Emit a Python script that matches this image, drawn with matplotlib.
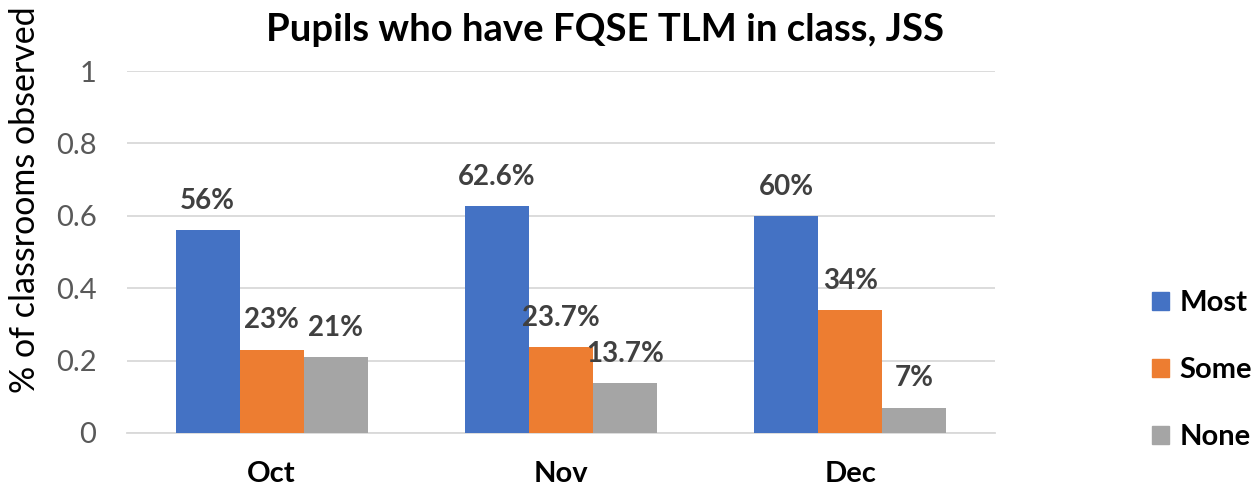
import numpy as np
import matplotlib
matplotlib.use("Agg")
from matplotlib import pyplot as plt
from matplotlib.patches import Patch

plt.rcParams['font.family'] = ['Lato', 'DejaVu Sans']

months = ["Oct", "Nov", "Dec"]
series_names = ["Most", "Some", "None"]
most = [0.56, 0.626, 0.60]
some = [0.23, 0.237, 0.34]
none = [0.21, 0.137, 0.07]
labels_most = ["56%", "62.6%", "60%"]
labels_some = ["23%", "23.7%", "34%"]
labels_none = ["21%", "13.7%", "7%"]
yticks = [0, 0.2, 0.4, 0.6, 0.8, 1]

colors = ["#4472C4", "#ED7D31", "#A5A5A5"]

fig = plt.figure(figsize=(12.56, 4.97), dpi=100)
ax = fig.add_axes([0.1011, 0.1288, 0.6911, 0.7283])

x = np.arange(len(months))
w = 0.221
all_vals = [most, some, none]
all_labels = [labels_most, labels_some, labels_none]
for i, (vals, labs) in enumerate(zip(all_vals, all_labels)):
    pos = x + (i - 1) * w
    ax.bar(pos, vals, width=w, color=colors[i], zorder=3)
    for p, v, l in zip(pos, vals, labs):
        ax.text(p, v + 0.045, l, ha='center', va='bottom', fontsize=20,
                fontweight='bold', color='#404040', zorder=4)

ax.set_xlim(-0.5, 2.5)
ax.set_ylim(0, 1)
ax.set_yticks(yticks)
ax.set_yticklabels(["0", "0.2", "0.4", "0.6", "0.8", "1"])
ax.set_xticks(x)
ax.set_xticklabels(months, fontsize=21, fontweight='bold', color='black')
ax.tick_params(axis='y', labelsize=21, labelcolor='#595959', length=0, pad=22)
ax.tick_params(axis='x', length=0, pad=20)
ax.grid(axis='y', color='#D9D9D9', linewidth=1.3, zorder=0)
for s in ['top', 'right', 'left']:
    ax.spines[s].set_visible(False)
ax.spines['bottom'].set_color('#D9D9D9')
ax.spines['bottom'].set_linewidth(1.3)

fig.text(0.02, 0.598, "% of classrooms observed", rotation=90, ha='center', va='center',
         fontsize=24.5, color='black')
fig.text(0.482, 0.94, "Pupils who have FQSE TLM in class, JSS", ha='center', va='center',
         fontsize=27.5, fontweight='bold')

handles = [Patch(color=c) for c in colors]
leg = fig.legend(handles, series_names, loc='center left', bbox_to_anchor=(0.917, 0.255),
                 frameon=False, prop={'size': 21, 'weight': 'bold'},
                 handlelength=0.6, handleheight=0.6, handletextpad=0.35, labelspacing=1.4,
                 borderpad=0, borderaxespad=0)

fig.savefig("out.png", dpi=100)
